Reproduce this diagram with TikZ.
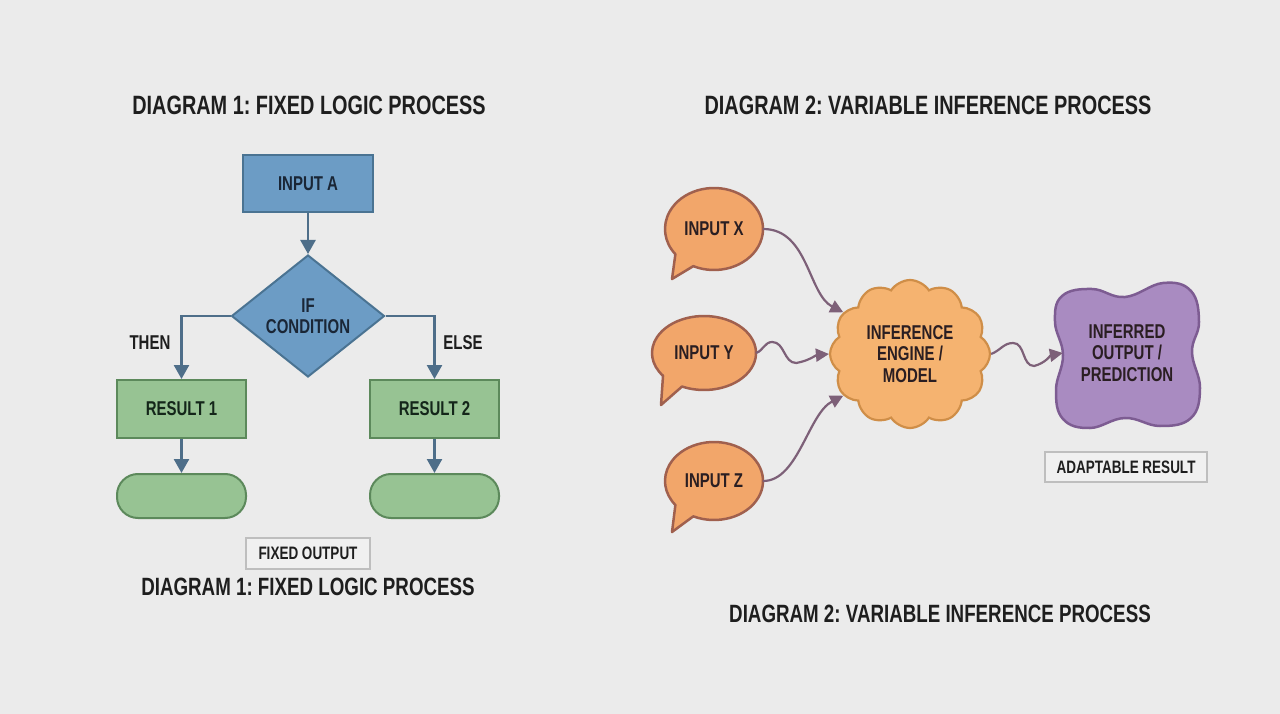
\documentclass[tikz,border=0pt]{standalone}
\usepackage{fontspec}
\setmainfont[FakeStretch=0.75]{Liberation Sans}
\usetikzlibrary{arrows.meta,shapes.geometric,shapes.symbols,calc}
\definecolor{bgc}{HTML}{EBEBEB}
\definecolor{titlec}{HTML}{1E1E1E}
\definecolor{bluef}{HTML}{6C9CC5}
\definecolor{blueb}{HTML}{4A7392}
\definecolor{bluet}{HTML}{1A2636}
\definecolor{arrowb}{HTML}{4E6E89}
\definecolor{greenf}{HTML}{97C393}
\definecolor{greenb}{HTML}{5C895B}
\definecolor{greent}{HTML}{14261A}
\definecolor{grayf}{HTML}{F0F0F0}
\definecolor{grayb}{HTML}{BEBEBE}
\definecolor{orf}{HTML}{F2A66A}
\definecolor{orb}{HTML}{A0604E}
\definecolor{cloudf}{HTML}{F5B370}
\definecolor{cloudb}{HTML}{CF8E48}
\definecolor{purf}{HTML}{A98BC1}
\definecolor{purb}{HTML}{7D5C92}
\definecolor{connc}{HTML}{7D6078}
\definecolor{darkt}{HTML}{2A1E22}
\begin{document}
\frenchspacing
\begin{tikzpicture}[x=1pt,y=1pt,
  toptitle/.style={font=\bfseries\fontsize{26.5}{30}\selectfont, text=titlec, inner sep=0},
  bottitle/.style={font=\bfseries\fontsize{25}{28}\selectfont, text=titlec, inner sep=0},
  lbl/.style={font=\bfseries\fontsize{20}{21.5}\selectfont, align=center, inner sep=0},
  bluebox/.style={lbl, rectangle, draw=blueb, fill=bluef, line width=2pt, minimum width=130pt, minimum height=57pt, text=bluet},
  bluedia/.style={lbl, diamond, draw=blueb, fill=bluef, line width=2pt, minimum width=153pt, minimum height=122pt, text=bluet},
  greenbox/.style={lbl, rectangle, draw=greenb, fill=greenf, line width=2pt, minimum width=129pt, minimum height=58pt, text=greent},
  pillbox/.style={rectangle, rounded corners=21pt, draw=greenb, fill=greenf, line width=2pt, minimum width=129pt, minimum height=44pt},
  tagbox/.style={font=\bfseries\fontsize{18}{20}\selectfont, rectangle, draw=grayb, fill=grayf, line width=2.5pt, text=titlec},
  barrow/.style={draw=arrowb, line width=2.5pt, -{Triangle[length=14pt,width=15pt]}},
  parrow/.style={draw=connc, line width=2.2pt, -{Triangle[length=13pt,width=13pt]}},
  bubble/.style={draw=orb, fill=orf, line width=2.5pt, line join=round},
  rtext/.style={lbl, text=darkt}
]
\fill[bgc] (0,0) rectangle (1280,-714);
\useasboundingbox (0,0) rectangle (1280,-714);

% titles
\node[toptitle] (t1) at (309,-105) {DIAGRAM 1: FIXED LOGIC PROCESS};
\node[toptitle] (t2) at (928,-105) {DIAGRAM 2: VARIABLE INFERENCE PROCESS};
\node[bottitle] (b1) at (308,-587) {DIAGRAM 1: FIXED LOGIC PROCESS};
\node[bottitle] (b2) at (940,-614) {DIAGRAM 2: VARIABLE INFERENCE PROCESS};

% diagram 1
\node[bluebox] (inA) at (308,-183.5) {INPUT A};
\node[bluedia] (dia) at (308,-316) {IF\\CONDITION};
\node[greenbox] (r1) at (181.5,-409) {RESULT 1};
\node[greenbox] (r2) at (434.5,-409) {RESULT 2};
\node[pillbox] (p1) at (181.5,-496) {};
\node[pillbox] (p2) at (434.5,-496) {};
\node[tagbox, minimum width=124pt, minimum height=31pt] (fo) at (308,-553.5) {FIXED OUTPUT};
\node[lbl, text=titlec] (then) at (150,-343) {THEN};
\node[lbl, text=titlec] (else) at (463,-343) {ELSE};

\draw[barrow] (inA.south) -- (dia.north);
\draw[barrow] (dia.west) -| (r1.north);
\draw[barrow] (dia.east) -| (r2.north);
\draw[barrow] (r1.south) -- (p1.north);
\draw[barrow] (r2.south) -- (p2.north);

% diagram 2 : speech bubbles
\coordinate (cx) at (714,-229);
\coordinate (tx) at (672,-279);
\draw[bubble] ($(cx)+(245:49 and 41)$) arc[start angle=245, end angle=578, x radius=49, y radius=41] -- (tx) -- cycle;
\node[rtext, ellipse, minimum width=98pt, minimum height=82pt] (ix) at (cx) {INPUT X};

\coordinate (cy) at (704,-353);
\coordinate (ty) at (661,-405);
\draw[bubble] ($(cy)+(245:52 and 37)$) arc[start angle=245, end angle=578, x radius=52, y radius=37] -- (ty) -- cycle;
\node[rtext, ellipse, minimum width=104pt, minimum height=74pt] (iy) at (cy) {INPUT Y};

\coordinate (cz) at (714,-481);
\coordinate (tz) at (672,-532);
\draw[bubble] ($(cz)+(245:49 and 39)$) arc[start angle=245, end angle=578, x radius=49, y radius=39] -- (tz) -- cycle;
\node[rtext, ellipse, minimum width=98pt, minimum height=78pt] (iz) at (cz) {INPUT Z};

% cloud
\node[rtext, cloud, cloud puffs=12, cloud puff arc=115, aspect=1.08, draw=cloudb, fill=cloudf, line width=2.2pt,
      minimum width=160pt, minimum height=148pt] (eng) at (910,-354) {INFERENCE\\ENGINE /\\MODEL};

% purple blob
\draw[draw=purb, fill=purf, line width=2.5pt] plot[smooth cycle, tension=0.7] coordinates {
 (1062,-296) (1092,-289) (1125,-297) (1163,-283) (1191,-291) (1199,-322) (1192,-352) (1200,-388)
 (1191,-418) (1160,-426) (1125,-418) (1090,-428) (1063,-419) (1056,-390) (1063,-355) (1055,-322)};
\node[rtext, minimum width=128pt, minimum height=100pt] (pr) at (1127,-353) {INFERRED\\OUTPUT /\\PREDICTION};

\node[tagbox, minimum width=162pt, minimum height=30pt] (ar) at (1126,-467) {ADAPTABLE RESULT};

% connectors
\draw[parrow] (ix.east) .. controls +(45,0) and +(-35,18) .. (eng.148);
\draw[parrow] (iy.east) to[out=20,in=180] ++(16,11) to[out=0,in=180] ++(24,-21) to[out=10,in=185] (eng.west);
\draw[parrow] (iz.east) .. controls +(35,0) and +(-35,-18) .. (eng.212);
\draw[parrow] (eng.east) to[out=20,in=180] ++(22,11) to[out=0,in=180] ++(21,-23) to[out=15,in=190] (pr.west);
\end{tikzpicture}
\end{document}
